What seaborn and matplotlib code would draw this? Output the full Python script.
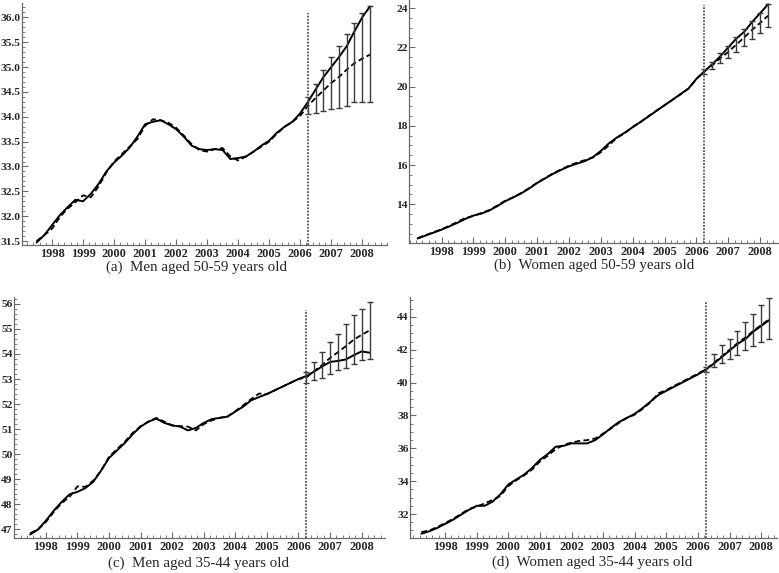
import numpy as np
import pandas as pd
import matplotlib
matplotlib.use("Agg")
import matplotlib.pyplot as plt
from matplotlib.ticker import MultipleLocator, FormatStrFormatter
import seaborn as sns

sns.set_style("ticks")
plt.rcParams['font.family'] = ['Liberation Serif', 'DejaVu Serif']

# ---------------- data ----------------
# quarterly time axis (decimal years)
t_long = np.round(1997.25 + 0.25 * np.arange(45), 3)   # 1997.25 .. 2008.25
t_short = t_long[1:]                                  # 1997.50 .. 2008.25
t_fc = t_long[-9:]                                    # forecast quarters
t_split = 2006.25

# (a) Men aged 50-59
a_solid = [31.47, 31.62, 31.82, 32.02, 32.18, 32.33, 32.30, 32.45, 32.65, 32.90,
           33.08, 33.22, 33.38, 33.60, 33.85, 33.90, 33.93, 33.85, 33.75, 33.60,
           33.42, 33.35, 33.33, 33.35, 33.33, 33.15, 33.17, 33.20, 33.30, 33.42,
           33.52, 33.68, 33.80, 33.90, 34.07, 34.30, 34.55, 34.80, 35.00, 35.20,
           35.42, 35.72, 36.00, 36.22]
a_dash = [31.50, 31.62, 31.75, 31.98, 32.15, 32.28, 32.42, 32.38, 32.60, 32.88,
          33.10, 33.25, 33.40, 33.55, 33.82, 33.95, 33.93, 33.88, 33.78, 33.62,
          33.45, 33.33, 33.30, 33.35, 33.37, 33.20, 33.12, 33.20, 33.30, 33.40,
          33.50, 33.66, 33.80, 33.90, 34.02, 34.22, 34.38, 34.53, 34.68, 34.80,
          34.95, 35.08, 35.17, 35.25]
a_lo = [34.05, 34.07, 34.12, 34.16, 34.18, 34.22, 34.30, 34.30, 34.30]
a_hi = [34.39, 34.66, 34.95, 35.20, 35.43, 35.67, 35.89, 36.08, 36.23]

# (b) Women aged 50-59
b_solid = [12.25, 12.40, 12.55, 12.70, 12.87, 13.05, 13.25, 13.42, 13.52, 13.68,
           13.90, 14.15, 14.35, 14.55, 14.80, 15.08, 15.32, 15.55, 15.75, 15.93,
           16.07, 16.20, 16.40, 16.72, 17.10, 17.40, 17.65, 17.93, 18.20, 18.48,
           18.77, 19.05, 19.33, 19.62, 19.90, 20.40, 20.78, 21.15, 21.55, 22.00,
           22.45, 22.80, 23.30, 23.75, 24.20]
b_dash = [12.27, 12.42, 12.57, 12.72, 12.90, 13.10, 13.30, 13.40, 13.55, 13.70,
          13.93, 14.18, 14.35, 14.57, 14.82, 15.10, 15.33, 15.58, 15.77, 15.97,
          16.12, 16.25, 16.38, 16.65, 17.00, 17.38, 17.62, 17.95, 18.20, 18.50,
          18.78, 19.05, 19.33, 19.60, 19.90, 20.38, 20.78, 21.09, 21.45, 21.77,
          22.14, 22.51, 22.90, 23.25, 23.62]
b_lo = [20.65, 20.90, 21.19, 21.45, 21.76, 22.08, 22.42, 22.72, 23.03]
b_hi = [20.90, 21.28, 21.70, 22.09, 22.52, 22.94, 23.37, 23.78, 24.22]

# (c) Men aged 35-44
c_solid = [46.80, 47.00, 47.35, 47.75, 48.10, 48.40, 48.50, 48.65, 48.90, 49.35,
           49.85, 50.15, 50.45, 50.80, 51.10, 51.30, 51.42, 51.25, 51.15, 51.10,
           50.95, 51.05, 51.25, 51.40, 51.45, 51.50, 51.70, 51.90, 52.15, 52.28,
           52.40, 52.55, 52.70, 52.85, 53.00, 53.12, 53.30, 53.50, 53.68, 53.72,
           53.78, 53.95, 54.10, 54.05]
c_dash = [46.85, 47.00, 47.30, 47.70, 48.05, 48.30, 48.72, 48.70, 48.95, 49.35,
          49.90, 50.20, 50.50, 50.85, 51.12, 51.30, 51.45, 51.30, 51.15, 51.12,
          51.10, 50.95, 51.20, 51.35, 51.45, 51.50, 51.72, 51.95, 52.20, 52.42,
          52.40, 52.55, 52.70, 52.85, 53.00, 53.06, 53.32, 53.56, 53.84, 54.07,
          54.31, 54.57, 54.76, 54.94]
c_lo = [52.84, 52.95, 53.05, 53.21, 53.34, 53.44, 53.60, 53.74, 53.81]
c_hi = [53.28, 53.68, 54.07, 54.47, 54.80, 55.18, 55.54, 55.78, 56.07]

# (d) Women aged 35-44
d_solid = [30.80, 30.95, 31.15, 31.40, 31.65, 31.95, 32.25, 32.50, 32.50, 32.75,
           33.20, 33.80, 34.10, 34.40, 34.80, 35.30, 35.65, 36.10, 36.15, 36.30,
           36.30, 36.30, 36.50, 36.85, 37.25, 37.60, 37.85, 38.10, 38.45, 38.85,
           39.25, 39.50, 39.75, 40.00, 40.25, 40.50, 40.80, 41.15, 41.55, 41.95,
           42.35, 42.65, 43.10, 43.45, 43.80]
d_dash = [30.90, 31.00, 31.20, 31.45, 31.70, 32.00, 32.30, 32.45, 32.65, 32.85,
          33.10, 33.70, 34.05, 34.35, 34.70, 35.20, 35.55, 35.95, 36.20, 36.35,
          36.45, 36.50, 36.60, 36.90, 37.20, 37.55, 37.85, 38.05, 38.40, 38.80,
          39.35, 39.55, 39.80, 40.05, 40.30, 40.55, 40.80, 41.20, 41.60, 42.00,
          42.40, 42.75, 43.15, 43.50, 43.85]
d_lo = [40.66, 40.92, 41.17, 41.43, 41.67, 41.98, 42.22, 42.48, 42.68]
d_hi = [40.96, 41.77, 42.28, 42.68, 43.15, 43.70, 44.20, 44.71, 45.17]

year_ticks = list(range(1998, 2009))
captions = ["(a)  Men aged 50-59 years old", "(b)  Women aged 50-59 years old",
            "(c)  Men aged 35-44 years old", "(d)  Women aged 35-44 years old"]

# ---------------- layout ----------------
W, H = 779, 573
fig = plt.figure(figsize=(W / 100, H / 100), dpi=100)

def add_ax(l, r, t, b):
    return fig.add_axes([l / W, 1 - b / H, (r - l) / W, (b - t) / H])

panels = [
    dict(box=(22, 387, 3, 245), t=t_short, s=a_solid, d=a_dash, lo=a_lo, hi=a_hi,
         xlim=(1997.03, 2008.8), ylim=(31.42, 36.29), vtop=36.09,
         ymaj=0.5, ymin=0.1, fmt='%.1f', cpos=(196, 267)),
    dict(box=(409, 778, 0, 243), t=t_long, s=b_solid, d=b_dash, lo=b_lo, hi=b_hi,
         xlim=(1996.98, 2008.56), ylim=(12.02, 24.42), vtop=24.17,
         ymaj=2, ymin=0.5, fmt='%d', cpos=(594, 265)),
    dict(box=(14, 385, 297, 538), t=t_short, s=c_solid, d=c_dash, lo=c_lo, hi=c_hi,
         xlim=(1996.99, 2008.74), ylim=(46.66, 56.27), vtop=55.77,
         ymaj=1, ymin=0.2, fmt='%d', cpos=(198, 563)),
    dict(box=(410, 777, 297, 538), t=t_long, s=d_solid, d=d_dash, lo=d_lo, hi=d_hi,
         xlim=(1996.89, 2008.5), ylim=(30.54, 45.21), vtop=44.89,
         ymaj=2, ymin=0.5, fmt='%d', cpos=(592, 562)),
]

axis_col = '#6a6a6a'
for p, caption in zip(panels, captions):
    ax = add_ax(*p['box'])
    sns.lineplot(x=p['t'], y=p['s'], ax=ax, color='black', linewidth=1.4)
    sns.lineplot(x=p['t'], y=p['d'], ax=ax, color='black', linewidth=1.3,
                 linestyle=(0, (3.2, 1.8)))
    lo = np.array(p['lo']); hi = np.array(p['hi'])
    mid = (lo + hi) / 2
    ax.errorbar(t_fc, mid, yerr=[mid - lo, hi - mid], fmt='none',
                ecolor='#3a3a3a', elinewidth=1.0, capsize=2.4, capthick=1.0)
    ax.vlines(t_split, p['ylim'][0], p['vtop'], colors='#555555',
              linestyles=(0, (1, 0.8)), linewidth=1.3)
    ax.set_xlim(*p['xlim'])
    ax.set_ylim(*p['ylim'])
    ax.set_xticks(year_ticks)
    ax.set_xticklabels([str(y) for y in year_ticks])
    ax.xaxis.set_minor_locator(MultipleLocator(0.2))
    ax.yaxis.set_major_locator(MultipleLocator(p['ymaj']))
    ax.yaxis.set_minor_locator(MultipleLocator(p['ymin']))
    ax.yaxis.set_major_formatter(FormatStrFormatter(p['fmt']))
    sns.despine(ax=ax)
    for side in ('left', 'bottom'):
        ax.spines[side].set_color(axis_col)
        ax.spines[side].set_linewidth(0.9)
    ax.tick_params(which='major', direction='in', length=4, width=0.8,
                   color=axis_col)
    ax.tick_params(axis='x', which='major', labelsize=8.8, pad=2)
    ax.tick_params(axis='y', which='major', labelsize=8.2, pad=1)
    ax.tick_params(which='minor', direction='in', length=2, width=0.6,
                   color=axis_col)
    for lab in ax.get_xticklabels() + ax.get_yticklabels():
        lab.set_fontweight('bold')
    ax.set_xlabel('')
    ax.set_ylabel('')
    ax.patch.set_alpha(0)
    cx, cy = p['cpos']
    fig.text(cx / W, 1 - cy / H, caption, ha='center', va='center',
             fontsize=10.8)

fig.savefig('out.png', dpi=100)
